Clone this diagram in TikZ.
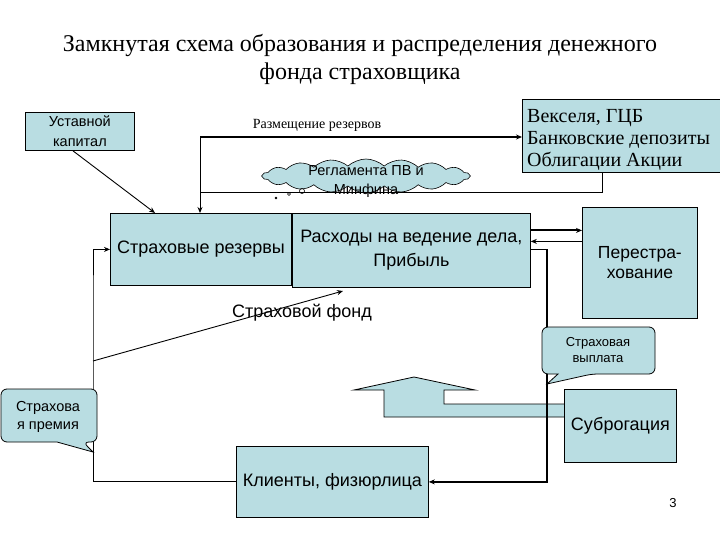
\documentclass[tikz,border=0pt]{standalone}
\usepackage{fontspec}
\setmainfont{Liberation Serif}
\setsansfont{Liberation Sans}
\usetikzlibrary{arrows.meta,shapes.symbols}
\definecolor{boxfill}{RGB}{185,221,226}
\begin{document}
\begin{tikzpicture}[x=1pt,y=-1pt,
 box/.style={draw=black, line width=0.8pt, fill=boxfill, inner sep=0pt, align=center, anchor=north west, font=\sffamily\fontsize{18}{24}\selectfont},
 thinline/.style={line width=0.9pt},
 thickline/.style={line width=1.8pt},
 tip/.style={-{Stealth[length=6pt,width=5pt]}},
 lbl/.style={inner sep=0pt, align=center, font=\sffamily\fontsize{18}{20}\selectfont},
]
\useasboundingbox (0,0) rectangle (720,540);

% title
\node[inner sep=0pt, align=center, font=\rmfamily\fontsize{24}{28}\selectfont] (title) at (360,59)
 {Замкнутая схема образования и распределения денежного\\фонда страховщика};

% boxes
\node[box, minimum width=109pt, minimum height=38pt, font=\sffamily\fontsize{14.5}{20}\selectfont] (ust) at (25,112) {Уставной\\капитал};
\node[box, minimum width=198pt, minimum height=73pt] (vek) at (522,99) {};
\node[inner sep=0pt, anchor=west, align=left, font=\rmfamily\fontsize{20}{22}\selectfont] (vektext) at (527,140) {Векселя, ГЦБ\\Банковские депозиты\\Облигации Акции};
\node[box, minimum width=181pt, minimum height=72pt] (res) at (110,213) {Страховые резервы};
\node[box, minimum width=238pt, minimum height=74pt] (ras) at (292,213) {Расходы на ведение дела,\\Прибыль};
\node[box, minimum width=115pt, minimum height=111pt, font=\sffamily\fontsize{17.5}{20}\selectfont] (per) at (582,207) {Перестра-\\хование};

% cloud
\node[cloud, cloud puffs=18, cloud puff arc=85, aspect=6, draw=black, line width=0.6pt, fill=boxfill,
 minimum width=207pt, minimum height=34pt, inner sep=0pt] (cloud) at (366,176) {};
\draw[line width=0.6pt] (302,191) circle (2.5pt) (289,194) circle (1.5pt) (276,198) circle (0.9pt);
\node[lbl, font=\sffamily\fontsize{14.5}{19}\selectfont] (cloudtext) at (366,182) {Регламента ПВ и\\Минфина};

% Размещение резервов
\node[inner sep=0pt, font=\rmfamily\fontsize{14}{14}\selectfont] (razm) at (317,125) {Размещение резервов};
\coordinate (c1) at (200,137);
\coordinate (c2) at (200,192);
\draw[thickline, tip] (c1) -- (c1 -| vek.west);
\draw[thinline, tip] (c1) -- (c1 |- res.north);
\draw[thinline] ([xshift=-19pt]vek.south) |- (c2);

% Уставной -> резервы
\draw[thinline, tip] ([xshift=-7pt]ust.south) -- ([xshift=45pt]res.north west);

% Расходы <-> Перестрахование
\coordinate (r1) at ([yshift=20pt]ras.east);
\coordinate (r2) at ([yshift=9pt]ras.east);
\draw[thickline, tip] (r1) -- (r1 -| per.west);
\draw[thinline, tip] (r2 -| per.west) -- (r2);

% block arrow (subrogation)
\draw[fill=boxfill, line width=0.8pt] (564,404) -- (444,404) -- (444,390) -- (475,390) -- (414,377) -- (354,390) -- (384,390) -- (384,417) -- (564,417);

% Суброгация, Клиенты
\node[box, minimum width=112pt, minimum height=73pt, font=\sffamily\fontsize{18}{20}\selectfont] (sub) at (564,389) {Суброгация};
\node[box, minimum width=192pt, minimum height=71pt] (kli) at (236,446) {Клиенты, физюрлица};

% payout line
\draw[thickline, tip] ([yshift=1pt]ras.east) -- ++(16,0) |- (kli.east);

% left loop
\coordinate (L) at (93,300);
\draw[thinline, tip] (kli.west) -| (L) |- (res.west);

% Страховой фонд
\node[lbl] (fond) at (302,313) {Страховой фонд};
\coordinate (f1) at (93,361);
\coordinate (f2) at (343,291);
\draw[thinline, tip] (f1) -- (f2);

% callout: Страховая выплата
\draw[fill=boxfill, line width=0.8pt] (592,374) -- (547,384) -- (558,374) [rounded corners=6pt] -- (542,374) -- (542,327) -- (655,327) -- (655,374) -- cycle;
\node[lbl, font=\sffamily\fontsize{13}{16}\selectfont] (vypl) at (598,350) {Страховая\\выплата};

% callout: Страхова я премия
\draw[fill=boxfill, line width=0.8pt] (83,442) -- (93,452) -- (57,442) [rounded corners=6pt] -- (1,442) -- (1,389) -- (97,389) -- (97,442) -- cycle;
\node[lbl, font=\sffamily\fontsize{14.5}{18}\selectfont] (prem) at (48,417) {Страхова\\я премия};

% page number
\node[inner sep=0pt, font=\sffamily\fontsize{13}{15}\selectfont] (pnum) at (673,503) {3};
\end{tikzpicture}
\end{document}
